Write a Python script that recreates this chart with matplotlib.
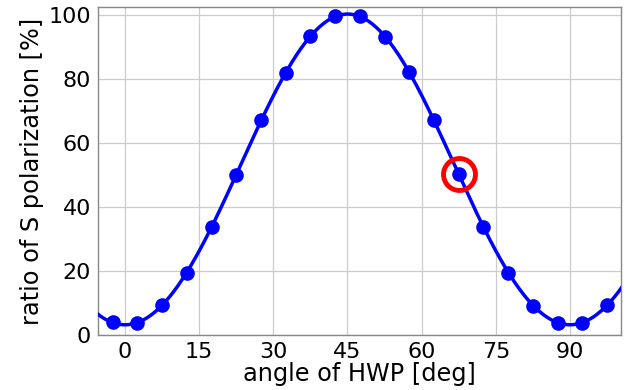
import numpy as np
import matplotlib
matplotlib.use("Agg")
import matplotlib.pyplot as plt

# Measured S-polarization ratio versus half-wave-plate angle
angle_deg = [-2.5, 2.5, 7.5, 12.5, 17.5, 22.5, 27.5, 32.5, 37.5, 42.5,
             47.5, 52.5, 57.5, 62.5, 67.5, 72.5, 77.5, 82.5, 87.5, 92.5, 97.5]
s_ratio = [4.0, 3.9, 9.3, 19.5, 33.6, 50.0, 67.0, 81.8, 93.3, 99.5,
           99.5, 93.2, 82.0, 67.0, 50.3, 33.8, 19.5, 9.1, 3.9, 3.9, 9.4]
highlight_angle = 67.5
highlight_value = 50.3

x_ticks = [0, 15, 30, 45, 60, 75, 90]
y_ticks = [0, 20, 40, 60, 80, 100]

theta = np.asarray(angle_deg, dtype=float)
ratio = np.asarray(s_ratio, dtype=float)


def harmonics(t):
    r = np.deg2rad(t)
    return np.column_stack([np.ones_like(r), np.cos(4 * r), np.sin(4 * r),
                            np.cos(8 * r), np.sin(8 * r)])


# Least-squares Fourier fit of the measurements
coef, *_ = np.linalg.lstsq(harmonics(theta), ratio, rcond=None)
t_fit = np.linspace(-6, 101, 600)
v_fit = harmonics(t_fit) @ coef

fig = plt.figure(figsize=(6.31, 3.90), dpi=100)
ax = fig.add_axes([0.155, 0.141, 0.829, 0.840])

ax.plot(t_fit, v_fit, color="blue", lw=2.5, zorder=3)
ax.plot(theta, ratio, "o", color="blue", ms=9.5, zorder=4)
ax.plot([highlight_angle], [highlight_value], "o", ms=23, mfc="none",
        mec="red", mew=3.5, zorder=5)

ax.set_xlim(-5.5, 100.3)
ax.set_ylim(0, 102.3)
ax.set_xticks(x_ticks)
ax.set_yticks(y_ticks)
ax.grid(True, color="#cccccc", lw=0.9)
ax.set_axisbelow(True)
ax.tick_params(length=0, labelsize=16, pad=5)
for s in ax.spines.values():
    s.set_color("#888888")
    s.set_linewidth(1.0)

ax.set_xlabel("angle of HWP [deg]", fontsize=17.3, labelpad=0)
ax.set_ylabel("ratio of S polarization [%]", fontsize=17.3, labelpad=3)

fig.savefig("out.png", dpi=100)
